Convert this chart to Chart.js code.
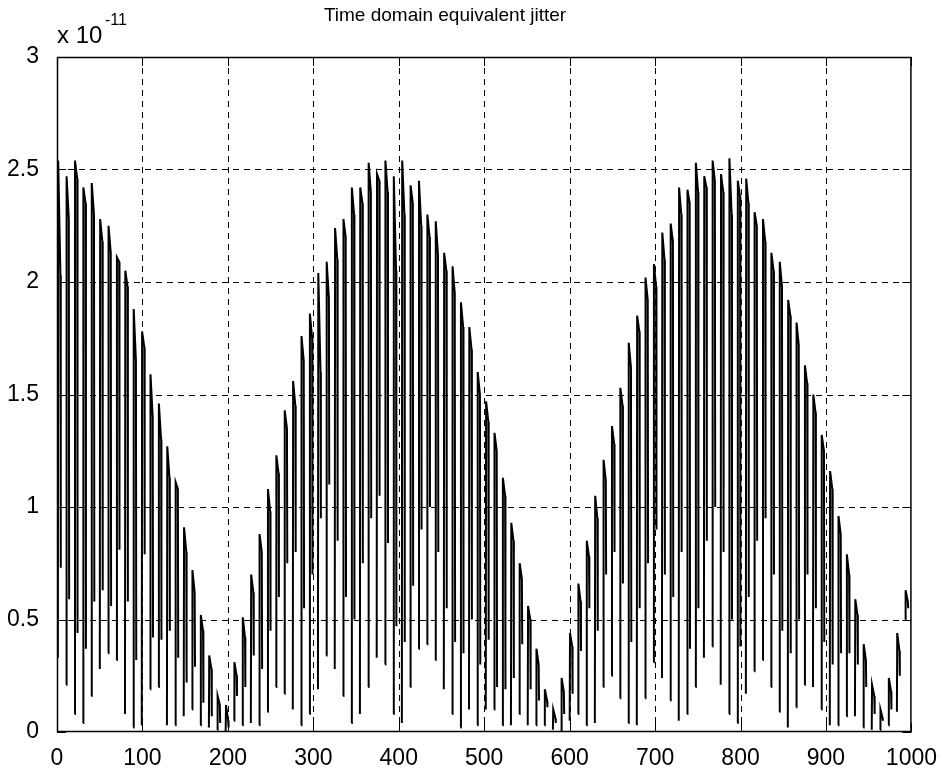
<!DOCTYPE html>
<html>
<head>
<meta charset="utf-8">
<title>Time domain equivalent jitter</title>
<script src="https://cdn.jsdelivr.net/npm/chart.js@4.4.1/dist/chart.umd.min.js"></script>
<style>
  html, body { margin: 0; padding: 0; background: #fff; }
</style>
</head>
<body>
<canvas id="c" width="942" height="769"></canvas>
<script>
// Jitter bursts, values in units of 1e-11.
// One entry per burst; bursts come every ~9.82 samples from sample 1.
const spikeStart = 1;
const spikeStep = 9.82;

// top of the tall stroke of each burst
const topA = [
  2.54, 2.47, 2.54, 2.42, 2.44, 2.28, 2.25, 2.11, 2.05, 1.88,
  1.78, 1.59, 1.46, 1.27, 1.11, 0.91, 0.72, 0.52, 0.34, 0.16,
  0.12, 0.31, 0.51, 0.70, 0.88, 1.08, 1.23, 1.43, 1.56, 1.76,
  1.86, 2.04, 2.09, 2.24, 2.28, 2.42, 2.42, 2.53, 2.48, 2.54,
  2.47, 2.54, 2.43, 2.45, 2.30, 2.27, 2.13, 2.07, 1.91, 1.80,
  1.60, 1.47, 1.33, 1.13, 0.93, 0.75, 0.56, 0.37, 0.19, 0.10,
  0.24, 0.44, 0.66, 0.85, 1.05, 1.21, 1.36, 1.53, 1.73, 1.85,
  2.02, 2.08, 2.22, 2.26, 2.42, 2.41, 2.53, 2.47, 2.54, 2.48,
  2.55, 2.45, 2.46, 2.31, 2.28, 2.13, 2.09, 1.92, 1.82, 1.63,
  1.50, 1.32, 1.16, 0.96, 0.79, 0.59, 0.39, 0.21, 0.10, 0.24,
  0.44, 0.63
];
// top of the second stroke
const topB = [
  2.03, 2.28, 2.46, 2.35, 2.30, 2.18, 2.13, 2.09, 1.98, 1.65, 1.71,
  1.40, 1.30, 1.13, 1.08, 0.80, 0.62, 0.45, 0.28, 0.12, 0.05,
  0.25, 0.42, 0.62, 0.80, 0.98, 1.15, 1.35, 1.45, 1.65, 1.75,
  1.60, 1.93, 2.10, 2.20, 2.30, 2.35, 2.40, 2.45, 2.40, 2.05,
  2.30, 2.35, 2.25, 2.20, 2.12, 2.05, 1.95, 1.80, 1.70, 1.50,
  1.38, 1.25, 1.05, 0.85, 0.68, 0.50, 0.30, 0.14, 0.06, 0.18,
  0.38, 0.58, 0.78, 0.95, 1.12, 1.28, 1.45, 1.62, 1.78, 1.92,
  1.98, 2.10, 2.18, 2.30, 2.35, 2.40, 2.42, 2.45, 2.40, 2.30,
  2.38, 2.35, 2.25, 2.18, 2.05, 1.98, 1.85, 1.72, 1.55, 1.42,
  1.25, 1.08, 0.88, 0.70, 0.52, 0.32, 0.16, 0.06, 0.18, 0.36, 0.58
];
// bottom of the tall stroke
const lowA = [
  0.33, 0.21, 0.08, 0.04, 0.16, 0.28, 0.35, 0.32, 0.08, 0.02, 0.03,
  0.19, 0.20, 0.03, 0.03, 0.07, 0.10, 0.03, 0.02, 0.01, 0.00,
  0.05, 0.03, 0.04, 0.03, 0.09, 0.20, 0.17, 0.10, 0.03, 0.08,
  0.19, 0.34, 0.28, 0.16, 0.04, 0.08, 0.20, 0.33, 0.30, 0.08,
  0.04, 0.20, 0.37, 0.39, 0.32, 0.19, 0.08, 0.02, 0.10, 0.03,
  0.10, 0.10, 0.03, 0.03, 0.08, 0.03, 0.03, 0.03, 0.01, 0.00,
  0.05, 0.08, 0.03, 0.04, 0.20, 0.25, 0.15, 0.04, 0.03, 0.15,
  0.31, 0.24, 0.14, 0.05, 0.08, 0.20, 0.33, 0.38, 0.21, 0.08,
  0.04, 0.17, 0.27, 0.32, 0.20, 0.09, 0.02, 0.11, 0.21, 0.20,
  0.10, 0.03, 0.03, 0.07, 0.07, 0.02, 0.01, 0.01, 0.03, 0.09, 0.50
];
// bottom of the second stroke
const lowB = [
  0.73, 0.59, 0.44, 0.37, 0.58, 0.63, 0.56, 0.81, 0.58, 0.32, 0.79,
  0.42, 0.41, 0.45, 0.33, 0.22, 0.29, 0.13, 0.07, 0.04, 0.02,
  0.16, 0.20, 0.34, 0.28, 0.45, 0.60, 0.75, 0.80, 0.55, 0.70,
  0.95, 1.10, 0.85, 0.60, 0.50, 0.75, 0.95, 1.05, 0.84, 0.47,
  0.40, 0.65, 0.90, 1.00, 0.80, 0.55, 0.40, 0.35, 0.50, 0.30,
  0.41, 0.20, 0.19, 0.24, 0.39, 0.19, 0.14, 0.11, 0.04, 0.08,
  0.17, 0.36, 0.55, 0.45, 0.70, 0.80, 0.66, 0.40, 0.55, 0.75,
  0.90, 0.70, 0.60, 0.80, 0.37, 0.55, 0.85, 1.00, 0.80, 0.50,
  0.38, 0.60, 0.85, 0.95, 0.70, 0.45, 0.35, 0.50, 0.70, 0.55,
  0.40, 0.30, 0.35, 0.35, 0.30, 0.20, 0.08, 0.05, 0.10, 0.25, 0.55
];

const xTicks = [0, 100, 200, 300, 400, 500, 600, 700, 800, 900, 1000];
const yTicks = [0, 0.5, 1, 1.5, 2, 2.5, 3];
const titleText = 'Time domain equivalent jitter';

// each burst: up the tall stroke, across, down the second stroke, then a break
const points = [];
topA.forEach((t, k) => {
  const s = spikeStart + k * spikeStep;
  points.push(
    { x: s, y: lowA[k] },
    { x: s + 0.4, y: t },
    { x: s + 3.0, y: topB[k] },
    { x: s + 3.4, y: lowB[k] },
    { x: s + 3.5, y: null }
  );
});

const font = 'Liberation Sans, Arial, sans-serif';

// dashed grid, inward ticks, box, title and the x 10^-11 multiplier
const matlabFrame = {
  id: 'matlabFrame',
  beforeDatasetsDraw(chart) {
    const { ctx, chartArea: a, scales: { x, y } } = chart;
    ctx.save();
    ctx.strokeStyle = '#000';
    ctx.lineWidth = 1;
    ctx.setLineDash([6, 5]);
    ctx.beginPath();
    xTicks.slice(1, -1).forEach(v => {
      const px = Math.round(x.getPixelForValue(v)) + 0.5;
      ctx.moveTo(px, a.top);
      ctx.lineTo(px, a.bottom);
    });
    yTicks.slice(1, -1).forEach(v => {
      const py = Math.round(y.getPixelForValue(v)) + 0.5;
      ctx.moveTo(a.left, py);
      ctx.lineTo(a.right, py);
    });
    ctx.stroke();
    ctx.restore();
  },
  afterDraw(chart) {
    const { ctx, chartArea: a, scales: { x, y } } = chart;
    ctx.save();
    ctx.strokeStyle = '#000';
    ctx.lineWidth = 1;
    ctx.setLineDash([]);
    const tl = 9;
    ctx.beginPath();
    xTicks.forEach(v => {
      const px = Math.round(x.getPixelForValue(v)) + 0.5;
      ctx.moveTo(px, a.top); ctx.lineTo(px, a.top + tl);
      ctx.moveTo(px, a.bottom); ctx.lineTo(px, a.bottom - tl);
    });
    yTicks.forEach(v => {
      const py = Math.round(y.getPixelForValue(v)) + 0.5;
      ctx.moveTo(a.left, py); ctx.lineTo(a.left + tl, py);
      ctx.moveTo(a.right, py); ctx.lineTo(a.right - tl, py);
    });
    ctx.stroke();
    ctx.lineWidth = 1.5;
    ctx.strokeRect(a.left + 0.5, a.top + 0.5, a.right - a.left - 1, a.bottom - a.top - 1);

    ctx.fillStyle = '#000';
    ctx.textBaseline = 'alphabetic';
    ctx.textAlign = 'center';
    ctx.font = '19px ' + font;
    ctx.fillText(titleText, 445, 21);

    ctx.textAlign = 'left';
    ctx.font = '24px ' + font;
    ctx.fillText('x 10', 57, 43);
    ctx.font = '16px ' + font;
    ctx.fillText('-11', 105, 25);
    ctx.restore();
  }
};

new Chart(document.getElementById('c'), {
  type: 'line',
  data: {
    datasets: [{
      data: points,
      borderColor: '#000',
      borderWidth: 2,
      pointRadius: 0,
      tension: 0,
      spanGaps: false,
      fill: false
    }]
  },
  options: {
    responsive: false,
    animation: false,
    layout: { padding: { top: 57, right: 27, left: 0, bottom: 0 } },
    plugins: { legend: { display: false }, tooltip: { enabled: false } },
    scales: {
      x: {
        type: 'linear',
        min: 0,
        max: 1000,
        afterFit(s) { s.height = 37; },
        afterBuildTicks(s) { s.ticks = xTicks.map(v => ({ value: v })); },
        grid: { display: false },
        border: { display: false },
        ticks: { color: '#000', padding: 5, maxRotation: 0, font: { family: font, size: 23 }, callback: v => String(v) }
      },
      y: {
        min: 0,
        max: 3,
        afterFit(s) { s.width = 57; },
        afterBuildTicks(s) { s.ticks = yTicks.map(v => ({ value: v })); },
        grid: { display: false },
        border: { display: false },
        ticks: { color: '#000', padding: 10, font: { family: font, size: 23 }, callback: v => String(v) }
      }
    }
  },
  plugins: [matlabFrame]
});
</script>
</body>
</html>
